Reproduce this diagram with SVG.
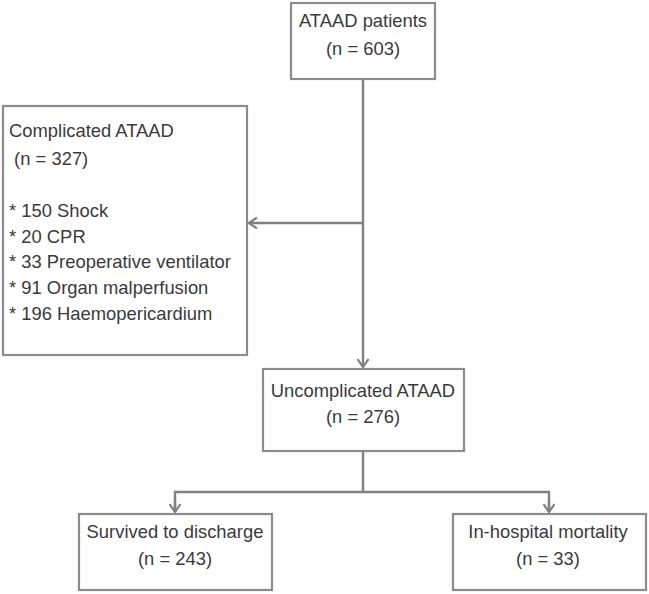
<svg xmlns="http://www.w3.org/2000/svg" width="649" height="594" viewBox="0 0 649 594">
<defs>
<style>
.box{fill:#fff;stroke:#8c8c8c;stroke-width:2.2}
.t{font-family:"Liberation Sans",Arial,sans-serif;font-size:18.4px;fill:#3a3a3a}
.c{text-anchor:middle}
.ln{fill:none;stroke:#808080;stroke-width:2.4}
</style>
<marker id="ah" viewBox="0 0 12 12" refX="11" refY="6" markerWidth="12" markerHeight="12" markerUnits="userSpaceOnUse" orient="auto">
<polyline points="3,0.5 11,6 3,11.5" fill="none" stroke="#808080" stroke-width="2.2"/>
</marker>
</defs>
<rect width="649" height="594" fill="#fff"/>
<g id="connectors">
<line class="ln" x1="363" y1="79" x2="363" y2="367" marker-end="url(#ah)"/>
<line class="ln" x1="363" y1="223" x2="249" y2="223" marker-end="url(#ah)"/>
<line class="ln" x1="363" y1="451" x2="363" y2="492"/>
<polyline class="ln" points="175,512 175,492 549,492 549,512"/>
<line class="ln" x1="175" y1="500" x2="175" y2="512" marker-end="url(#ah)"/>
<line class="ln" x1="549" y1="500" x2="549" y2="512" marker-end="url(#ah)"/>
</g>
<g id="n1">
<rect class="box" x="291" y="3" width="144" height="76"/>
<text class="t c" x="363" y="27">ATAAD patients</text>
<text class="t c" x="363" y="55">(n = 603)</text>
</g>
<g id="n2">
<rect class="box" x="3" y="106" width="244" height="249"/>
<text class="t" x="9" y="137">Complicated ATAAD</text>
<text class="t" x="9" y="165" xml:space="preserve"> (n = 327)</text>
<text class="t" x="9" y="217">* 150 Shock</text>
<text class="t" x="9" y="243">* 20 CPR</text>
<text class="t" x="9" y="268">* 33 Preoperative ventilator</text>
<text class="t" x="9" y="294">* 91 Organ malperfusion</text>
<text class="t" x="9" y="320">* 196 Haemopericardium</text>
</g>
<g id="n3">
<rect class="box" x="263" y="369" width="201" height="82"/>
<text class="t c" x="363" y="397">Uncomplicated ATAAD</text>
<text class="t c" x="363" y="423">(n = 276)</text>
</g>
<g id="n4">
<rect class="box" x="79" y="514" width="193" height="76"/>
<text class="t c" x="175" y="538">Survived to discharge</text>
<text class="t c" x="175" y="565">(n = 243)</text>
</g>
<g id="n5">
<rect class="box" x="453" y="514" width="193" height="76"/>
<text class="t c" x="548" y="538">In-hospital mortality</text>
<text class="t c" x="548" y="565">(n = 33)</text>
</g>
</svg>
